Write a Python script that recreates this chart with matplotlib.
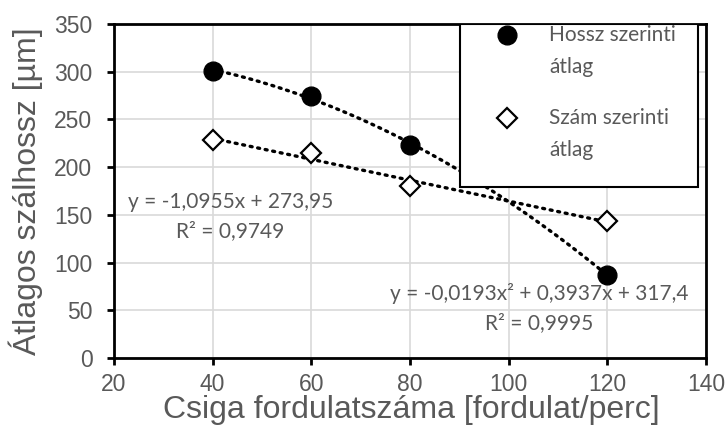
import numpy as np
import matplotlib.pyplot as plt
from matplotlib.patches import Rectangle

plt.rcParams['font.family'] = ['Liberation Sans', 'DejaVu Sans']

# data
fordulat = [40, 60, 80, 120]
hossz_atlag = [301, 275, 223, 87]
szam_atlag = [228, 215, 180, 144]

# trendline coefficients (as printed on the chart)
hossz_coef = [-0.0193, 0.3937, 317.4]
szam_coef = [-1.0955, 273.95]

xticks = [20, 40, 60, 80, 100, 120, 140]
yticks = [0, 50, 100, 150, 200, 250, 300, 350]

gray = '#595959'
textfont = ['Lato', 'DejaVu Sans']

fig = plt.figure(figsize=(7.26, 4.42), dpi=100)
ax = fig.add_axes([0.157, 0.190, 0.8155, 0.7557])

xx = np.linspace(40, 120, 200)
dots = dict(color='black', linewidth=2.4, linestyle=(0, (0.6, 1.7)),
            dash_capstyle='round', zorder=2)
ax.plot(xx, np.polyval(hossz_coef, xx), **dots)
ax.plot(xx, np.polyval(szam_coef, xx), **dots)

ax.plot(fordulat, hossz_atlag, 'o', color='black', markersize=13.5, zorder=3)
ax.plot(fordulat, szam_atlag, 'D', markerfacecolor='white',
        markeredgecolor='black', markeredgewidth=1.6, markersize=10.5,
        zorder=3)

ax.set_xlim(20, 140)
ax.set_ylim(0, 350)
ax.set_xticks(xticks)
ax.set_yticks(yticks)
ax.grid(True, color='#d9d9d9', linewidth=1.2)
ax.set_axisbelow(True)
for s in ax.spines.values():
    s.set_linewidth(2)
    s.set_color('black')
ax.tick_params(direction='out', length=5, width=2, color='black',
               labelcolor=gray, labelsize=16.5)
ax.tick_params(axis='x', pad=6)
ax.tick_params(axis='y', pad=10.5)

ax.set_xlabel('Csiga fordulatszáma [fordulat/perc]', fontsize=23,
              color=gray)
ax.set_ylabel('Átlagos szálhossz [µm]', fontsize=23, color=gray)
ax.xaxis.set_label_coords(0.503, -0.156)
ax.xaxis.label.set_va('center')
ax.yaxis.set_label_coords(-0.149, 0.5)
ax.yaxis.label.set_va('center')

# trendline equations
eq = dict(ha='center', va='center', fontsize=15, color=gray, family=textfont)
ax.text(43.6, 163, 'y = -1,0955x + 273,95', **eq)
ax.text(43.6, 133, 'R² = 0,9749', **eq)
ax.text(106.1, 68, 'y = -0,0193x² + 0,3937x + 317,4', **eq)
ax.text(106.1, 37, 'R² = 0,9995', **eq)

# legend box (markers sit on the first text line, as in the original)
tr = ax.transAxes
ax.add_patch(Rectangle((0.584, 0.512), 0.402, 0.488, transform=tr,
                       facecolor='white', edgecolor='black', linewidth=1.5,
                       zorder=5))
ax.plot([0.664], [0.967], 'o', color='black', markersize=13.5,
        transform=tr, clip_on=False, zorder=6)
ax.plot([0.664], [0.719], 'D', markerfacecolor='white',
        markeredgecolor='black', markeredgewidth=1.6, markersize=10.5,
        transform=tr, clip_on=False, zorder=6)
lg = dict(ha='left', va='center', fontsize=15, color=gray, family=textfont,
          transform=tr, zorder=6)
ax.text(0.735, 0.967, 'Hossz szerinti', **lg)
ax.text(0.735, 0.871, 'átlag', **lg)
ax.text(0.735, 0.719, 'Szám szerinti', **lg)
ax.text(0.735, 0.623, 'átlag', **lg)

fig.savefig('out.png', dpi=100)
